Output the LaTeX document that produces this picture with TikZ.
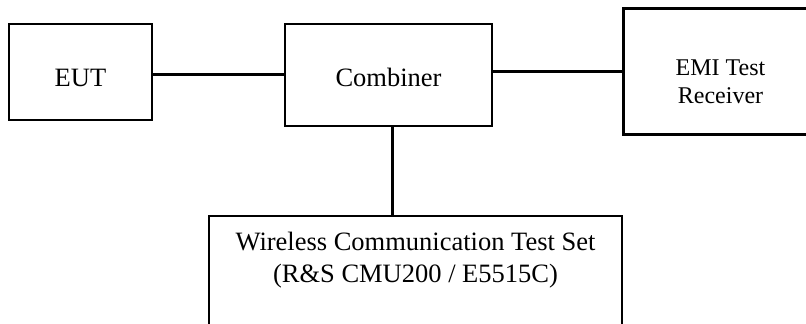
\documentclass[tikz,border=0pt]{standalone}
\usepackage{fontspec}
\setmainfont{Liberation Serif}

\begin{document}
\begin{tikzpicture}[x=0.5pt,y=-0.5pt,box node/.style={rectangle,draw,line width=1pt,inner sep=0pt,font=\fontsize{13.25}{16}\selectfont,align=center},link/.style={line width=1.5pt}]
  \useasboundingbox (0,0) rectangle (806,324);
  \clip (0,0) rectangle (806,324);
  \node[box node,minimum width=71.5pt,minimum height=48pt,text height=15pt] (eut) at (80.5,72) {EUT};
  \node[box node,minimum width=103.5pt,minimum height=51pt,text height=12pt] (comb) at (388.5,75) {Combiner};
  \node[box node,line width=1.5pt,minimum width=97.5pt,minimum height=63pt,font=\fontsize{12}{14}\selectfont,text height=32pt] (emi) at (720.5,72) {EMI Test\\Receiver};
  \node[box node,anchor=north,minimum width=206.5pt,inner ysep=8pt,text depth=40pt] (wts) at (415.5,215) {Wireless Communication Test Set\\(R\&S CMU200 / E5515C)};

\path[link]
  (comb.west -| eut.east) edge (comb.west)
  (comb.east |- emi.west) edge (emi.west)
  ([xshift=1.75pt]comb.south) edge ([xshift=1.75pt]comb.south |- wts.north)
;
\end{tikzpicture}
\end{document}
